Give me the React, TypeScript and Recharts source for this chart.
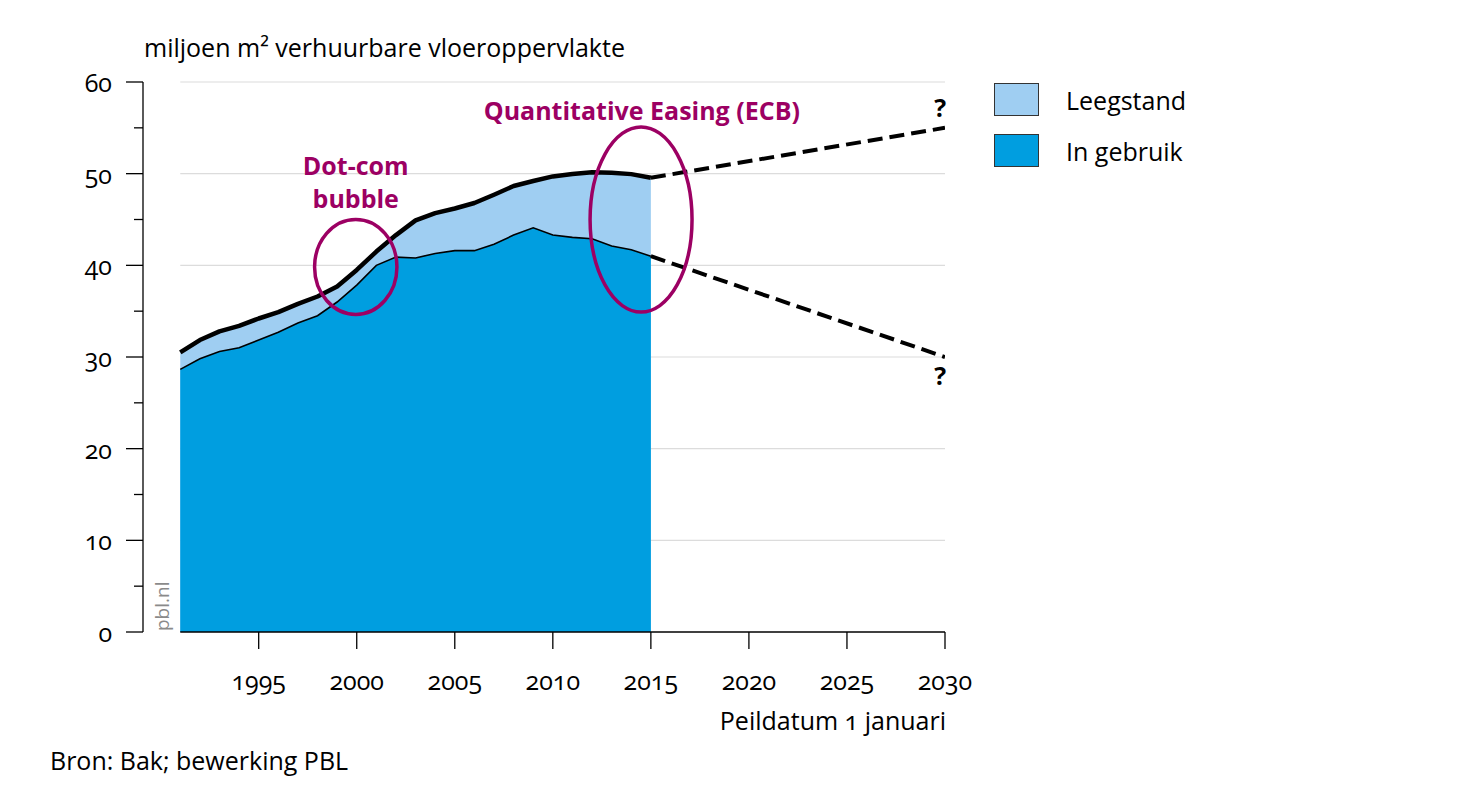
import React from 'react';
import {
  ComposedChart,
  Area,
  Line,
  XAxis,
  YAxis,
  ReferenceLine,
  ReferenceArea,
  ReferenceDot,
} from 'recharts';

// ---------- data ----------
const years = [
  1991, 1992, 1993, 1994, 1995, 1996, 1997, 1998, 1999, 2000, 2001, 2002, 2003,
  2004, 2005, 2006, 2007, 2008, 2009, 2010, 2011, 2012, 2013, 2014, 2015,
];
// total stock (in gebruik + leegstand), miljoen m2
const totalValues = [
  30.5, 31.85, 32.8, 33.4, 34.2, 34.9, 35.8, 36.6, 37.7, 39.5, 41.5, 43.3, 44.9,
  45.7, 46.2, 46.8, 47.7, 48.65, 49.2, 49.7, 49.96, 50.15, 50.1, 49.95, 49.55,
];
// in gebruik, miljoen m2
const inUseValues = [
  28.65, 29.8, 30.6, 31.0, 31.85, 32.7, 33.7, 34.5, 36.0, 37.85, 40.0, 40.9, 40.8,
  41.3, 41.6, 41.6, 42.3, 43.3, 44.1, 43.3, 43.05, 42.9, 42.1, 41.7, 41.0,
];
const projectionYears = [2015, 2030];
const projectionHigh = [49.55, 55.0];
const projectionLow = [41.0, 30.0];

const xTicks = [1995, 2000, 2005, 2010, 2015, 2020, 2025, 2030];
const yTicks = [0, 5, 10, 15, 20, 25, 30, 35, 40, 45, 50, 55, 60];
const gridValues = [10, 20, 30, 40, 50, 60];
const xStart = 1991;
const xEnd = 2030;

const legendItems = [
  { name: 'Leegstand', color: '#9FCEF2' },
  { name: 'In gebruik', color: '#009EE0' },
];

const PURPLE = '#9C0063';
const DARK_BLUE = '#009EE0';
const LIGHT_BLUE = '#9FCEF2';
const FONT = '"Open Sans", "Noto Sans", sans-serif';
const FS = 25;

// build table
const data: any[] = years.map((y, i) => ({
  year: y,
  total: totalValues[i],
  inUse: inUseValues[i],
}));
projectionYears.forEach((y, i) => {
  let row = data.find((r) => r.year === y);
  if (!row) {
    row = { year: y };
    data.push(row);
  }
  row.projHigh = projectionHigh[i];
  row.projLow = projectionLow[i];
});

const YTick = (props: any) => {
  const { x, y, payload } = props;
  const major = payload.value % 10 === 0;
  return (
    <g>
      <line x1={x - (major ? 17 : 9)} x2={x} y1={y} y2={y} stroke="#000" strokeWidth={1.3} />
      {major && (
        <text
          x={x - 31}
          y={y}
          textAnchor="end"
          dominantBaseline="central"
          fontSize={FS}
          fontFamily={FONT}
          fill="#000"
          style={{ fontVariantNumeric: 'oldstyle-nums' }}
        >
          {payload.value}
        </text>
      )}
    </g>
  );
};

const XTick = (props: any) => {
  const { x, y, payload } = props;
  return (
    <text
      x={x}
      y={y + 31}
      textAnchor="middle"
      dominantBaseline="central"
      fontSize={FS}
      fontFamily={FONT}
      fill="#000"
      style={{ fontVariantNumeric: 'oldstyle-nums' }}
    >
      {payload.value}
    </text>
  );
};

const ellipseShape = (p: any) => (
  <ellipse
    cx={p.x + p.width / 2}
    cy={p.y + p.height / 2}
    rx={Math.abs(p.width) / 2}
    ry={Math.abs(p.height) / 2}
    fill="none"
    stroke={PURPLE}
    strokeWidth={3.5}
  />
);

const textShape = (lines: string[], size: number, color: string, gap: number) => (p: any) => (
  <text
    x={p.cx}
    y={p.cy}
    textAnchor="middle"
    dominantBaseline="central"
    fontSize={size}
    fontWeight={700}
    fontFamily={FONT}
    fill={color}
  >
    {lines.map((l, i) => (
      <tspan key={i} x={p.cx} dy={i === 0 ? 0 : gap}>
        {l}
      </tspan>
    ))}
  </text>
);

export default function App() {
  return (
    <div
      style={{
        position: 'absolute',
        left: 0,
        top: 0,
        width: 1467,
        height: 785,
        fontFamily: FONT,
        background: '#fff',
      }}
    >
      <div
        style={{
          position: 'absolute',
          left: 144,
          top: 31,
          fontSize: FS,
          lineHeight: '32px',
          color: '#000',
          whiteSpace: 'nowrap',
        }}
      >
        miljoen m² verhuurbare vloeroppervlakte
      </div>

      <ComposedChart
        width={1467}
        height={785}
        data={data}
        margin={{ top: 82, right: 522, bottom: 93, left: 0 }}
      >
        {gridValues.map((v) => (
          <ReferenceLine
            key={v}
            segment={[
              { x: xStart, y: v },
              { x: xEnd, y: v },
            ]}
            stroke="#dcdcdc"
            strokeWidth={1.2}
            ifOverflow="visible"
            zIndex={-100}
          />
        ))}
        <XAxis
          dataKey="year"
          type="number"
          domain={[1989.1, 2030]}
          ticks={xTicks}
          axisLine={false}
          tickLine={{ stroke: '#000', strokeWidth: 1.3 }}
          tickSize={17}
          tickMargin={0}
          tick={<XTick />}
          height={60}
          allowDataOverflow
        />
        <YAxis
          type="number"
          domain={[0, 60]}
          ticks={yTicks}
          width={143}
          axisLine={{ stroke: '#000', strokeWidth: 1.3 }}
          tickLine={false}
          tickSize={0}
          tickMargin={0}
          tick={<YTick />}
          interval={0}
        />
        <Area
          type="linear"
          dataKey="total"
          fill={LIGHT_BLUE}
          fillOpacity={1}
          stroke="#000"
          strokeWidth={4.5}
          strokeLinejoin="round"
          isAnimationActive={false}
          dot={false}
          activeDot={false}
        />
        <Area
          type="linear"
          dataKey="inUse"
          fill={DARK_BLUE}
          fillOpacity={1}
          stroke="#000"
          strokeWidth={1.6}
          isAnimationActive={false}
          dot={false}
          activeDot={false}
        />
        <Line
          type="linear"
          dataKey="projHigh"
          stroke="#000"
          strokeWidth={4}
          strokeDasharray="15 7"
          connectNulls
          dot={false}
          activeDot={false}
          isAnimationActive={false}
        />
        <Line
          type="linear"
          dataKey="projLow"
          stroke="#000"
          strokeWidth={4}
          strokeDasharray="15 7"
          connectNulls
          dot={false}
          activeDot={false}
          isAnimationActive={false}
        />
        <ReferenceLine
          segment={[
            { x: xStart, y: 0 },
            { x: xEnd, y: 0 },
          ]}
          stroke="#000"
          strokeWidth={1.3}
          ifOverflow="visible"
        />
        <ReferenceArea
          x1={1997.85}
          x2={2002.05}
          y1={34.65}
          y2={45.0}
          shape={ellipseShape}
          ifOverflow="visible"
          zIndex={1500}
        />
        <ReferenceArea
          x1={2011.9}
          x2={2017.1}
          y1={34.9}
          y2={55.1}
          shape={ellipseShape}
          ifOverflow="visible"
          zIndex={1500}
        />
        <ReferenceDot x={1999.95} y={50.9} r={0} shape={textShape(['Dot-com', 'bubble'], FS, PURPLE, 33)} ifOverflow="visible" />
        <ReferenceDot x={2014.54} y={56.9} r={0} shape={textShape(['Quantitative Easing (ECB)'], FS, PURPLE, 0)} ifOverflow="visible" />
        <ReferenceDot x={2029.75} y={57.3} r={0} shape={textShape(['?'], FS, '#000', 0)} ifOverflow="visible" />
        <ReferenceDot x={2029.75} y={28.0} r={0} shape={textShape(['?'], FS, '#000', 0)} ifOverflow="visible" />
      </ComposedChart>

      <div
        style={{
          position: 'absolute',
          left: 151,
          top: 631,
          transform: 'rotate(-90deg)',
          transformOrigin: '0 0',
          fontSize: 19,
          lineHeight: '22px',
          color: '#8a8a8a',
          whiteSpace: 'nowrap',
        }}
      >
        pbl.nl
      </div>

      {legendItems.map((it, i) => (
        <div
          key={it.name}
          style={{ position: 'absolute', left: 994, top: 83 + i * 51, height: 33, display: 'flex', alignItems: 'center' }}
        >
          <div
            style={{
              width: 43,
              height: 31,
              background: it.color,
              border: '1px solid #333',
            }}
          />
          <div style={{ marginLeft: 27, fontSize: FS, lineHeight: '32px', color: '#000', whiteSpace: 'nowrap' }}>
            {it.name}
          </div>
        </div>
      ))}

      <div
        style={{
          position: 'absolute',
          right: 1467 - 946,
          top: 704,
          fontSize: FS,
          lineHeight: '32px',
          color: '#000',
          whiteSpace: 'nowrap',
          fontVariantNumeric: 'oldstyle-nums',
        }}
      >
        Peildatum 1 januari
      </div>

      <div
        style={{
          position: 'absolute',
          left: 50,
          top: 744,
          fontSize: FS,
          lineHeight: '32px',
          color: '#000',
          whiteSpace: 'nowrap',
        }}
      >
        Bron: Bak; bewerking PBL
      </div>
    </div>
  );
}
